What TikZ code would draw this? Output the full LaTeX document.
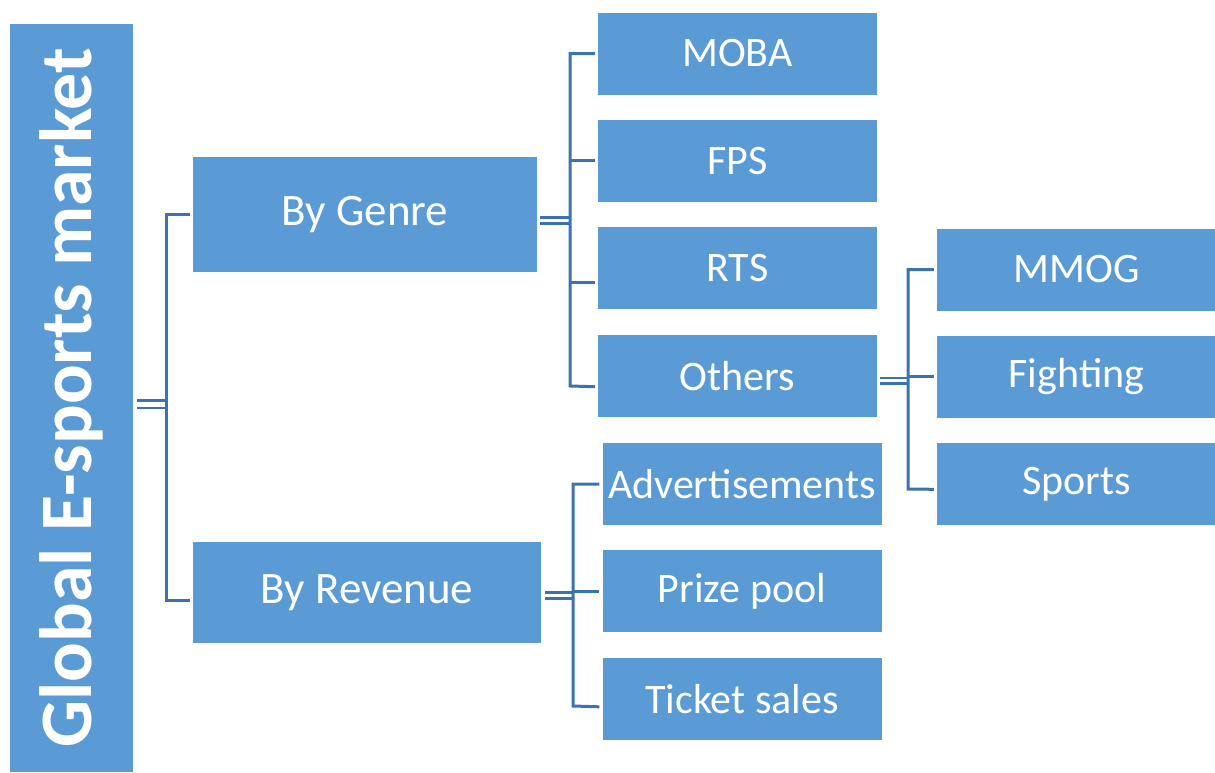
\documentclass[tikz,border=0pt]{standalone}
\usepackage{fontspec}
\setmainfont{Carlito}
\usepackage{tikz}
\usetikzlibrary{positioning}
\definecolor{boxblue}{RGB}{91,155,213}
\definecolor{linkblue}{RGB}{58,114,178}
\tikzset{
  hub/.style={fill=boxblue, text=white, align=center, inner sep=0pt,
    font=\bfseries\fontsize{74}{80}\selectfont},
  group/.style={fill=boxblue, text=white, align=center, inner sep=0pt,
    font=\fontsize{45}{50}\selectfont},
  leaf/.style={fill=boxblue, text=white, align=center, inner sep=0pt,
    minimum width=279pt, minimum height=82pt, font=\fontsize{42}{48}\selectfont},
  % paired stub out of a parent box
  pair/.style={draw=linkblue, line width=2.6pt, double=white, double distance=3pt},
  % bracket to the children
  branch/.style={draw=linkblue, line width=3pt}
}
\begin{document}
\begin{tikzpicture}[x=1pt, y=-1pt, node distance=25pt]
  \useasboundingbox (0,0) rectangle (1215,772);

  \node[hub, rotate=90, minimum width=748pt, minimum height=123pt] (market) at (71.5,398) {Global E-sports market};

  \node[group, minimum width=344pt, minimum height=115pt] (genre) at (365,214.5) {By Genre};
  \node[group, minimum width=348pt, minimum height=101pt] (revenue) at (367,592.5) {By Revenue};

  % genres
  \node[leaf] (moba) at (737.5,53.5) {MOBA};
  \node[leaf, below=of moba] (fps) {FPS};
  \node[leaf, below=of fps] (rts) {RTS};
  \node[leaf, below=of rts] (others) {Others};

  % revenue streams
  \node[leaf] (ads) at (742,484) {Advertisements};
  \node[leaf, below=of ads] (prize) {Prize pool};
  \node[leaf, below=of prize] (ticket) {Ticket sales};

  % other genres
  \node[leaf] (mmog) at (1076.5,269.5) {MMOG};
  \node[leaf, below=of mmog] (fighting) {Fighting};
  \node[leaf, below=of fighting] (sports) {Sports};

  % market -> genre / revenue
  \draw[pair, double distance=5pt] ([xshift=4pt,yshift=-6pt]market.south) -- ++(29,0) coordinate (mbar);
  \draw[branch] ([xshift=-3pt]genre.west) -| (mbar |- revenue) |- ([xshift=-3pt,yshift=-8pt]revenue.west);

  % genre -> leaves
  \draw[pair] ([xshift=3pt,yshift=-6pt]genre.east) -- (570,0 |- 0,220.5) coordinate (gbar);
  \draw[branch] ([xshift=-3pt]moba.west) -| (gbar |- 0,386) -- ([xshift=-3pt,yshift=-11pt]others.west);
  \draw[branch] (gbar |- fps) -- ([xshift=-3pt]fps.west);
  \draw[branch] ([yshift=-14pt]gbar |- rts) -- ([xshift=-3pt,yshift=-14pt]rts.west);

  % others -> leaves
  \draw[pair] ([xshift=3pt,yshift=-5pt]others.east) -- ++(28,0) coordinate (obar);
  \draw[branch] ([xshift=-3pt]mmog.west) -| (obar |- 0,489) -- ([xshift=-3pt,yshift=-5pt]sports.west);
  \draw[branch] (obar |- fighting) -- ([xshift=-3pt]fighting.west);

  % revenue -> leaves
  \draw[pair] ([xshift=4pt,yshift=-3pt]revenue.east) -- (573,0 |- 0,595.5) coordinate (rbar);
  \draw[branch] ([xshift=-3pt]ads.west) -| (rbar |- 0,706) -- ([xshift=-3pt,yshift=-8pt]ticket.west);
  \draw[branch] (rbar |- prize) -- ([xshift=-3pt]prize.west);
\end{tikzpicture}
\end{document}
